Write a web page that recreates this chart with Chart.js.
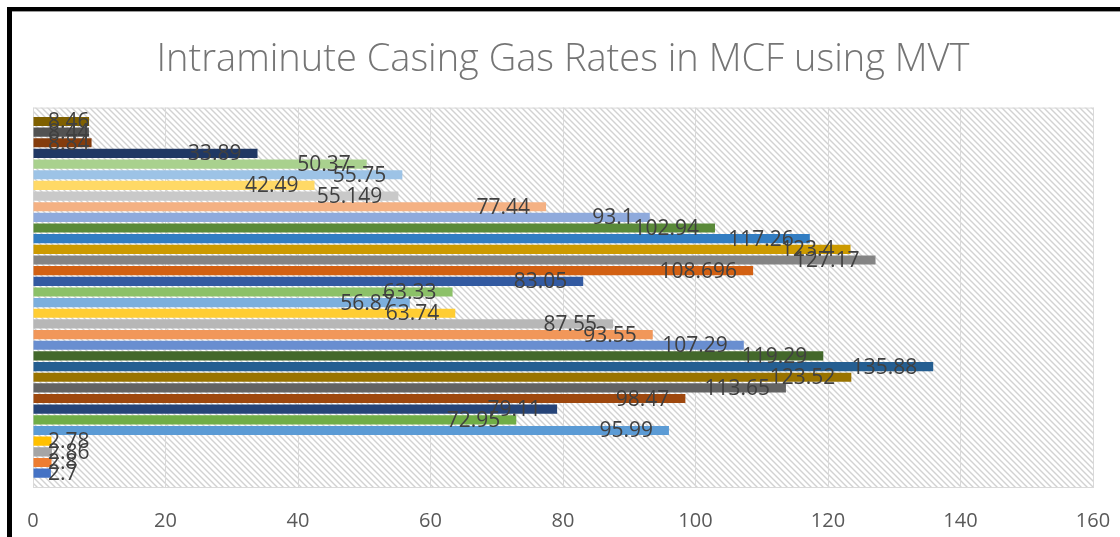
<!DOCTYPE html>
<html>
<head>
<meta charset="utf-8">
<script src="https://cdn.jsdelivr.net/npm/chart.js@4.4.1/dist/chart.umd.min.js"></script>
<style>
  body { margin: 0; background: #fff; }
  canvas { display: block; }
</style>
</head>
<body>
<canvas id="chart" width="1120" height="537"></canvas>
<script>
// one category, one series per run (Series 1 is the bottom bar)
const categories = [''];
const seriesNames = [
  'Series1', 'Series2', 'Series3', 'Series4', 'Series5', 'Series6', 'Series7',
  'Series8', 'Series9', 'Series10', 'Series11', 'Series12', 'Series13', 'Series14',
  'Series15', 'Series16', 'Series17', 'Series18', 'Series19', 'Series20', 'Series21',
  'Series22', 'Series23', 'Series24', 'Series25', 'Series26', 'Series27', 'Series28',
  'Series29', 'Series30', 'Series31', 'Series32', 'Series33', 'Series34'
];
const seriesValues = [
  2.7, 2.8, 2.86, 2.78, 95.99, 72.95, 79.11, 98.47, 113.65, 123.52,
  135.88, 119.29, 107.29, 93.55, 87.55, 63.74, 56.87, 63.33, 83.05, 108.696,
  127.17, 123.4, 117.26, 102.94, 93.1, 77.44, 55.149, 42.49, 55.75, 50.37,
  33.89, 8.84, 8.44, 8.46
];
const seriesColors = [
  '#4472C4', '#ED7D31', '#A5A5A5', '#FFC000', '#5B9BD5', '#70AD47',
  '#264478', '#9E480E', '#636363', '#997300', '#255E91', '#43682B',
  '#698ED0', '#F1975A', '#B7B7B7', '#FFCD33', '#7CAFDD', '#8CC168',
  '#335AA1', '#D26012', '#848484', '#CC9A00', '#327DC2', '#5A8A39',
  '#8FAADC', '#F4B183', '#C9C9C9', '#FFD966', '#9DC3E6', '#A9D18E',
  '#203864', '#843C0C', '#525252', '#7F6000'
];
const xTicks = [0, 20, 40, 60, 80, 100, 120, 140, 160];

// chart.js stacks datasets top-down, excel bottom-up -> reverse
const datasets = [];
for (let i = seriesValues.length - 1; i >= 0; i--) {
  datasets.push({
    label: seriesNames[i],
    data: [seriesValues[i]],
    backgroundColor: seriesColors[i],
    borderWidth: 0
  });
}

function hatch() {
  const c = document.createElement('canvas');
  c.width = 6; c.height = 6;
  const g = c.getContext('2d');
  g.fillStyle = '#fff';
  g.fillRect(0, 0, 6, 6);
  g.strokeStyle = '#d2d2d2';
  g.lineWidth = 1.4;
  g.beginPath();
  g.moveTo(-1, -1); g.lineTo(7, 7);
  g.moveTo(-4, 2); g.lineTo(4, 10);
  g.moveTo(2, -4); g.lineTo(10, 4);
  g.stroke();
  return c;
}

const backdrop = {
  id: 'backdrop',
  beforeDraw(chart) {
    const { ctx, chartArea: a } = chart;
    ctx.save();
    ctx.fillStyle = '#000';
    ctx.fillRect(7, 7, 1113, 4);
    ctx.fillRect(7, 7, 5, 530);
    ctx.fillStyle = '#9a9a9a';
    ctx.fillRect(12, 11, 1108, 1);
    ctx.fillStyle = ctx.createPattern(hatch(), 'repeat');
    ctx.fillRect(a.left, a.top, a.right - a.left, a.bottom - a.top);
    ctx.strokeStyle = '#d9d9d9';
    ctx.lineWidth = 1;
    ctx.strokeRect(a.left + 0.5, a.top + 0.5, a.right - a.left, a.bottom - a.top);
    ctx.restore();
  }
};

const barLabels = {
  id: 'barLabels',
  afterDatasetsDraw(chart) {
    const { ctx, chartArea: a } = chart;
    ctx.save();
    ctx.font = '21px "Open Sans"';
    ctx.fillStyle = '#404040';
    ctx.textBaseline = 'middle';
    ctx.textAlign = 'left';
    chart.data.datasets.forEach((ds, i) => {
      const bar = chart.getDatasetMeta(i).data[0];
      const txt = String(ds.data[0]);
      const w = ctx.measureText(txt).width;
      let left = bar.x - 16 - w;
      if (left < a.left + 15) left = a.left + 15;
      ctx.fillText(txt, left, bar.y + 1);
    });
    ctx.restore();
  }
};

new Chart(document.getElementById('chart'), {
  type: 'bar',
  data: { labels: categories, datasets: datasets },
  options: {
    responsive: false,
    animation: false,
    indexAxis: 'y',
    layout: { padding: { left: 33, right: 27, top: 0, bottom: 4 } },
    datasets: { bar: { categoryPercentage: 0.955, barPercentage: 0.86 } },
    plugins: {
      legend: { display: false },
      tooltip: { enabled: false },
      title: {
        display: true,
        text: 'Intraminute Casing Gas Rates in MCF using MVT',
        color: '#757575',
        font: { family: '"Open Sans"', size: 38, weight: '300', lineHeight: 1.2 },
        padding: { top: 37, bottom: 25 }
      }
    },
    scales: {
      x: {
        min: 0,
        max: 160,
        afterBuildTicks(axis) { axis.ticks = xTicks.map(v => ({ value: v })); },
        afterFit(axis) {
          axis.height = 46;
          axis.paddingLeft = 10;
          axis.paddingRight = 10;
        },
        grid: { color: '#d9d9d9', drawTicks: false },
        border: { display: false },
        ticks: {
          color: '#595959',
          font: { family: '"Open Sans"', size: 20, lineHeight: 1.2 },
          padding: 22,
          maxRotation: 0
        }
      },
      y: {
        display: false
      }
    }
  },
  plugins: [backdrop, barLabels]
});
</script>
</body>
</html>
